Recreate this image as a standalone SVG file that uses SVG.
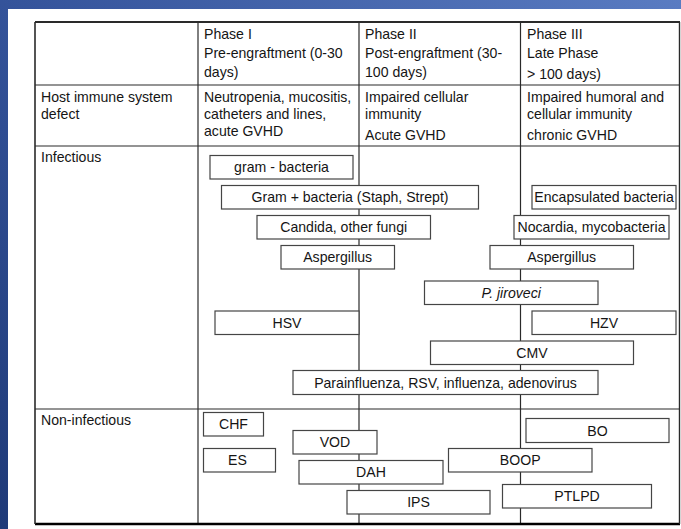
<svg xmlns="http://www.w3.org/2000/svg" width="681" height="529" viewBox="0 0 681 529">
<defs>
<linearGradient id="bg" x1="0" y1="1" x2="1" y2="0">
<stop offset="0" stop-color="#1f3a78"/>
<stop offset="0.5" stop-color="#34539a"/>
<stop offset="1" stop-color="#5a7cc2"/>
</linearGradient>
<style>
text{font-family:"Liberation Sans",Arial,sans-serif;font-size:14.1px;fill:#151515}
.c{text-anchor:middle}
.box rect{fill:#fff;stroke:#454545;stroke-width:1.2}
.grid line{stroke:#2a2a2a;stroke-width:1.2}
</style>
</defs>
<rect x="0" y="0" width="681" height="529" fill="url(#bg)"/>
<rect x="8" y="9" width="673" height="520" fill="#fff"/>

<g id="grid" class="grid">
<line x1="35" y1="85" x2="680" y2="85"/>
<line x1="35" y1="146" x2="680" y2="146"/>
<line x1="35" y1="409" x2="680" y2="409"/>
<line x1="198" y1="22" x2="198" y2="524"/>
<line x1="359" y1="22" x2="359" y2="524"/>
<line x1="520.5" y1="22" x2="520.5" y2="524"/>
<line x1="35" y1="22" x2="680" y2="22" style="stroke-width:2"/>
<line x1="35" y1="524" x2="680" y2="524" style="stroke-width:2.6;stroke:#000"/>
<line x1="35" y1="22" x2="35" y2="524" style="stroke-width:1.6"/>
<line x1="679.5" y1="22" x2="679.5" y2="524" style="stroke-width:1.4"/>
</g>

<g id="header">
<text x="204" y="38.5">Phase I</text>
<text x="204" y="58">Pre-engraftment (0-30</text>
<text x="204" y="77">days)</text>
<text x="365" y="38.5">Phase II</text>
<text x="365" y="58">Post-engraftment (30-</text>
<text x="365" y="77">100 days)</text>
<text x="527" y="38.5">Phase III</text>
<text x="527" y="58">Late Phase</text>
<text x="527" y="78.5">&gt; 100 days)</text>
</g>

<g id="host">
<text x="41" y="102">Host immune system</text>
<text x="41" y="119">defect</text>
<text x="204" y="102">Neutropenia, mucositis,</text>
<text x="204" y="119">catheters and lines,</text>
<text x="204" y="136">acute GVHD</text>
<text x="365" y="102">Impaired cellular</text>
<text x="365" y="119">immunity</text>
<text x="365" y="140">Acute GVHD</text>
<text x="527" y="102">Impaired humoral and</text>
<text x="527" y="119">cellular immunity</text>
<text x="527" y="140">chronic GVHD</text>
</g>

<g id="row-labels">
<text x="41" y="161.5">Infectious</text>
<text x="41" y="425">Non-infectious</text>
</g>

<g id="n-gram-neg" class="box"><rect x="210" y="155.5" width="143" height="23.5"/><text class="c" x="281.5" y="172.3">gram - bacteria</text></g>
<g id="n-gram-pos" class="box"><rect x="221.5" y="185.5" width="257" height="23.5"/><text class="c" x="350" y="202.3">Gram + bacteria (Staph, Strept)</text></g>
<g id="n-candida" class="box"><rect x="257" y="215.5" width="173.5" height="23.5"/><text class="c" x="343.7" y="232.3">Candida, other fungi</text></g>
<g id="n-asp1" class="box"><rect x="281" y="245.5" width="113.5" height="23.5"/><text class="c" x="337.7" y="262.3">Aspergillus</text></g>
<g id="n-encaps" class="box"><rect x="532" y="185.5" width="144" height="23.5"/><text class="c" x="604" y="202.3">Encapsulated bacteria</text></g>
<g id="n-nocardia" class="box"><rect x="514" y="215.5" width="155" height="23.5"/><text class="c" x="591.5" y="232.3">Nocardia, mycobacteria</text></g>
<g id="n-asp2" class="box"><rect x="490" y="245.5" width="143.5" height="23.5"/><text class="c" x="561.7" y="262.3">Aspergillus</text></g>
<g id="n-pjir" class="box"><rect x="424.5" y="281" width="173.5" height="23.5"/><text class="c" x="511.2" y="297.8" font-style="italic">P. jiroveci</text></g>
<g id="n-hsv" class="box"><rect x="215" y="311" width="144" height="23.5"/><text class="c" x="287" y="327.8">HSV</text></g>
<g id="n-hzv" class="box"><rect x="532" y="311" width="144" height="23.5"/><text class="c" x="604" y="327.8">HZV</text></g>
<g id="n-cmv" class="box"><rect x="430.5" y="341" width="203" height="23.5"/><text class="c" x="532" y="357.8">CMV</text></g>
<g id="n-para" class="box"><rect x="293" y="370.5" width="305" height="24"/><text class="c" x="445.5" y="387.5">Parainfluenza, RSV, influenza, adenovirus</text></g>

<g id="n-chf" class="box"><rect x="203.5" y="412.5" width="60" height="23.5"/><text class="c" x="233.5" y="429.3">CHF</text></g>
<g id="n-vod" class="box"><rect x="293" y="430.5" width="84" height="23.5"/><text class="c" x="335" y="447.3">VOD</text></g>
<g id="n-es" class="box"><rect x="203.5" y="448.5" width="72" height="23.5"/><text class="c" x="237.5" y="465.3">ES</text></g>
<g id="n-dah" class="box"><rect x="299" y="460.5" width="144" height="23.5"/><text class="c" x="371" y="477.3">DAH</text></g>
<g id="n-boop" class="box"><rect x="448.5" y="448.5" width="143.5" height="23.5"/><text class="c" x="520.2" y="465.3">BOOP</text></g>
<g id="n-bo" class="box"><rect x="526" y="418.5" width="143" height="24"/><text class="c" x="597.5" y="435.5">BO</text></g>
<g id="n-ips" class="box"><rect x="347" y="490.5" width="143" height="23.5"/><text class="c" x="418.5" y="507.3">IPS</text></g>
<g id="n-ptlpd" class="box"><rect x="502.5" y="484.5" width="149" height="23.5"/><text class="c" x="577" y="501.3">PTLPD</text></g>
</svg>
